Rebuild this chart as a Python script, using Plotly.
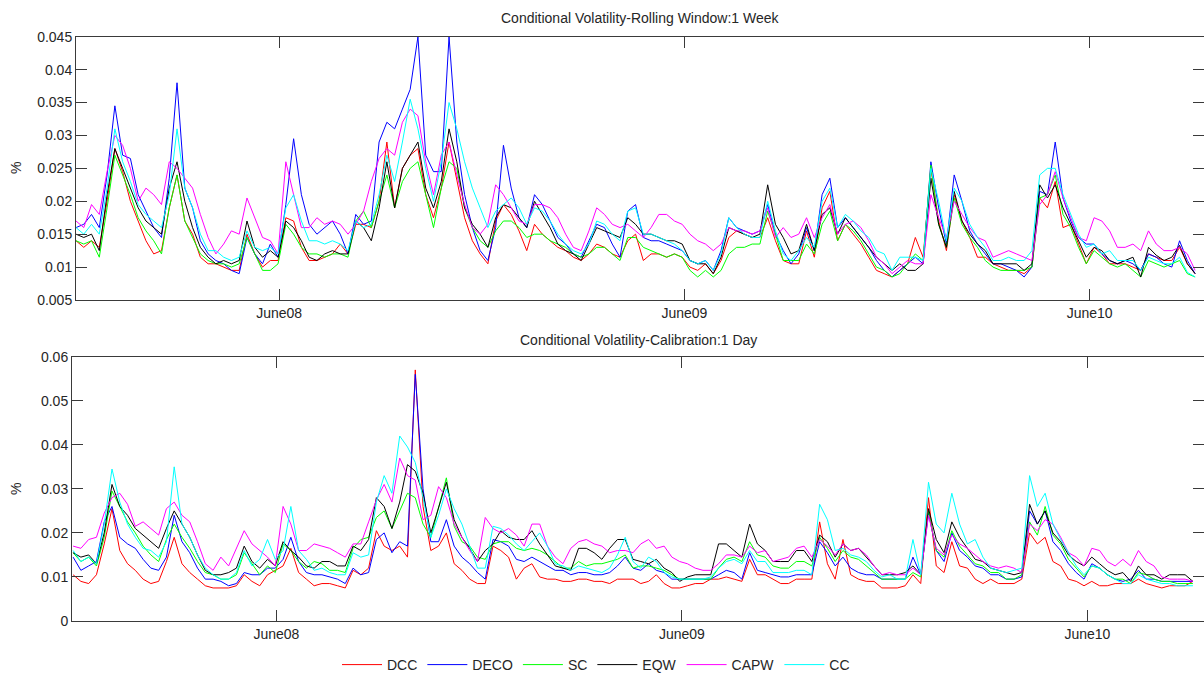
import pandas as pd
import plotly.graph_objects as go

# weekly observation dates (x axis)
dates = pd.date_range("2007-12-01", periods=145, freq="7D")

series_names = ["DCC", "DECO", "SC", "EQW", "CAPW", "CC"]
series_colors = ["#ff0000", "#0000ff", "#00ff00", "#000000", "#ff00ff", "#00ffff"]

month_ticks = ["2008-06-01", "2009-06-01", "2010-06-01"]
month_labels = ["June08", "June09", "June10"]

top_ticks = [0.005, 0.01, 0.015, 0.02, 0.025, 0.03, 0.035, 0.04, 0.045]
top_tick_labels = ["0.005", "0.01", "0.015", "0.02", "0.025", "0.03", "0.035", "0.04", "0.045"]
bot_ticks = [0, 0.01, 0.02, 0.03, 0.04, 0.05, 0.06]
bot_tick_labels = ["0", "0.01", "0.02", "0.03", "0.04", "0.05", "0.06"]

# ---- Panel 1: Rolling Window 1 Week ----
top_dcc = [.014,.013,.014,.013,.020,.028,.0245,.020,.017,.014,
           .012,.0125,.019,.024,.017,.015,.0115,.0105,.0105,.010,
           .0095,.0095,.015,.012,.010,.011,.011,.0175,.017,.013,
           .011,.011,.0115,.012,.0135,.012,.0165,.0165,.016,.020,
           .029,.019,.025,.027,.028,.021,.0175,.022,.029,.023,
           .0175,.014,.012,.0105,.017,.0195,.018,.0155,.0125,.0165,
           .015,.014,.013,.0125,.0115,.011,.012,.0135,.013,.012,
           .0115,.014,.015,.011,.012,.012,.0115,.012,.0115,.010,
           .0095,.0105,.009,.011,.0145,.0155,.015,.0145,.0145,.0175,
           .014,.011,.0105,.0105,.0155,.0115,.019,.0215,.014,.0165,
           .015,.0135,.0115,.0095,.009,.0085,.0095,.0105,.0145,.0115,
           .025,.017,.0125,.021,.017,.0145,.0115,.0115,.0105,.010,
           .0095,.0095,.009,.010,.0205,.019,.023,.016,.0165,.0135,
           .0105,.013,.012,.0105,.0105,.0105,.010,.0095,.012,.0115,
           .011,.011,.013,.0105,.009]
top_deco = [.016,.0165,.018,.016,.024,.0345,.027,.0265,.021,.0185,
            .016,.0145,.0235,.038,.022,.019,.014,.012,.011,.0105,
            .0095,.009,.0145,.012,.0105,.0135,.0115,.0195,.0295,.021,
            .0165,.015,.016,.017,.015,.012,.018,.0165,.017,.029,
            .032,.031,.034,.037,.045,.027,.0245,.0245,.045,.029,
            .021,.016,.0125,.011,.016,.0285,.022,.0175,.016,.021,
            .0195,.017,.0145,.0135,.012,.0115,.014,.0165,.016,.0135,
            .0115,.0185,.0195,.0145,.014,.014,.0135,.013,.0125,.011,
            .0105,.011,.0095,.0125,.0175,.016,.0155,.015,.0155,.0195,
            .015,.0125,.0105,.012,.016,.0125,.021,.0235,.016,.0175,
            .016,.0145,.013,.011,.0095,.0085,.0095,.0105,.0115,.0105,
            .026,.019,.0135,.024,.020,.0155,.0135,.012,.0105,.0105,
            .010,.0095,.0085,.010,.0215,.021,.029,.0205,.017,.0145,
            .0135,.0135,.012,.011,.0105,.011,.0105,.0095,.012,.0115,
            .0105,.010,.014,.011,.009]
top_sc = [.014,.0135,.014,.0115,.019,.027,.024,.021,.0175,.0155,
          .014,.012,.019,.024,.017,.0145,.012,.011,.0105,.0105,
          .010,.0105,.0145,.012,.0095,.0095,.0105,.0165,.015,.013,
          .012,.012,.0115,.012,.012,.0115,.017,.0185,.016,.020,
          .024,.019,.023,.025,.026,.021,.016,.022,.026,.025,
          .019,.016,.014,.013,.0155,.017,.017,.016,.0145,.015,
          .015,.014,.0135,.013,.012,.0115,.012,.013,.013,.012,
          .011,.0145,.0145,.013,.0125,.012,.0115,.012,.0115,.0095,
          .0085,.0095,.0085,.0095,.012,.013,.013,.0135,.0135,.0185,
          .015,.011,.011,.011,.0135,.012,.0165,.0185,.014,.0165,
          .0155,.014,.012,.010,.0095,.0085,.009,.0105,.012,.011,
          .0255,.0165,.013,.0205,.0165,.0145,.013,.011,.010,.0095,
          .0095,.0095,.0095,.010,.0205,.021,.024,.018,.016,.013,
          .0105,.0125,.0115,.0105,.010,.0105,.0095,.0085,.011,.0105,
          .010,.0105,.011,.009,.0085]
top_eqw = [.015,.0145,.015,.0125,.021,.028,.025,.022,.019,.017,
           .016,.015,.022,.026,.020,.016,.013,.0115,.0105,.011,
           .0105,.011,.017,.013,.0115,.0125,.0115,.017,.016,.014,
           .0115,.011,.012,.0125,.012,.012,.017,.016,.014,.019,
           .026,.019,.025,.027,.029,.022,.019,.023,.031,.026,
           .019,.0165,.015,.013,.0175,.0195,.019,.0175,.016,.020,
           .018,.016,.0135,.0125,.012,.011,.0135,.016,.0155,.015,
           .0145,.0175,.0165,.015,.015,.0145,.014,.014,.0135,.011,
           .0105,.0105,.009,.0115,.016,.0155,.015,.0145,.015,.0225,
           .0165,.0145,.012,.0125,.0165,.0125,.018,.019,.015,.0175,
           .016,.0145,.013,.0115,.0105,.0095,.0105,.0095,.0095,.0105,
           .0235,.0165,.013,.0215,.017,.015,.0135,.0125,.0105,.0105,
           .0105,.0105,.0095,.0105,.0225,.0205,.0225,.019,.0165,.014,
           .0115,.013,.0125,.011,.0105,.011,.0115,.0085,.013,.0118,
           .011,.0115,.0133,.0105,.009]
top_capw = [.017,.016,.0195,.018,.0245,.030,.0285,.025,.020,.022,
            .021,.0195,.026,.025,.0235,.022,.018,.0145,.012,.0135,
            .0155,.015,.0205,.0175,.0145,.014,.012,.026,.021,.016,
            .016,.0175,.0165,.017,.0165,.015,.0165,.0185,.023,.0265,
            .028,.027,.032,.034,.033,.026,.021,.027,.029,.024,
            .0195,.016,.015,.0165,.0225,.021,.019,.017,.0165,.0195,
            .0195,.019,.0175,.015,.013,.0125,.0155,.019,.018,.0165,
            .016,.0165,.0155,.0145,.016,.018,.018,.017,.0165,.015,
            .014,.0135,.0125,.0135,.016,.0155,.0155,.015,.0155,.019,
            .0145,.016,.0145,.015,.0175,.0145,.0175,.0195,.015,.0165,
            .017,.016,.014,.0115,.0105,.009,.010,.011,.0105,.0105,
            .021,.0175,.0145,.020,.018,.016,.0145,.014,.0115,.012,
            .0125,.012,.0115,.011,.0195,.021,.0245,.0205,.0175,.0145,
            .014,.0175,.017,.0155,.013,.013,.0135,.0125,.0155,.0135,
            .0125,.0125,.013,.012,.0095]
top_cc = [.016,.015,.0165,.015,.022,.031,.026,.023,.0195,.018,
          .017,.016,.021,.031,.022,.019,.015,.0125,.0125,.0115,
          .011,.0115,.0155,.013,.0125,.013,.012,.019,.021,.017,
          .014,.014,.0135,.014,.0135,.0125,.017,.016,.0165,.021,
          .027,.023,.029,.0355,.031,.025,.020,.026,.035,.031,
          .026,.022,.019,.016,.0185,.0195,.0205,.019,.0165,.019,
          .0185,.017,.015,.0135,.0125,.012,.0135,.017,.0165,.015,
          .014,.0185,.019,.015,.015,.0145,.014,.0135,.0125,.011,
          .0105,.011,.0095,.012,.0175,.016,.015,.0145,.0145,.020,
          .0155,.012,.011,.0125,.0145,.013,.020,.022,.016,.018,
          .017,.0155,.0145,.0125,.012,.0095,.0115,.0115,.0115,.011,
          .025,.020,.014,.022,.020,.0165,.0145,.013,.011,.011,
          .0115,.011,.011,.0125,.024,.025,.025,.021,.018,.015,
          .013,.0135,.012,.0125,.011,.011,.011,.0095,.0115,.011,
          .0105,.0105,.0115,.0092,.0085]

# ---- Panel 2: Calibration 1 Day ----
bot_dcc = [.0105,.009,.0085,.0105,.0175,.0255,.016,.013,.0115,.0095,
           .0085,.009,.0135,.019,.013,.011,.0095,.008,.0075,.0075,
           .0075,.008,.0105,.009,.008,.0105,.0115,.0125,.0165,.011,
           .0095,.008,.0085,.0085,.008,.0075,.0115,.0105,.012,.0205,
           .017,.016,.017,.0145,.057,.026,.016,.017,.020,.013,
           .0115,.0095,.0085,.0085,.017,.016,.0145,.0095,.012,.013,
           .010,.0095,.0095,.009,.009,.0095,.0095,.009,.009,.0085,
           .0095,.0095,.0095,.0085,.009,.0105,.0085,.0075,.0075,.008,
           .0085,.0085,.0095,.0095,.010,.0095,.009,.014,.0105,.0105,
           .0095,.0085,.0085,.0095,.0095,.0095,.0225,.013,.0095,.0185,
           .0105,.0095,.009,.009,.0075,.0075,.0075,.008,.0105,.0085,
           .028,.0125,.011,.018,.0125,.012,.0095,.0085,.0095,.0085,
           .0085,.0085,.0095,.020,.0175,.019,.0135,.0125,.0095,.009,
           .008,.009,.008,.008,.0085,.0085,.0085,.0095,.0085,.008,
           .0075,.008,.008,.008,.009]
bot_deco = [.0145,.0115,.0125,.0135,.0225,.026,.019,.0175,.0165,.014,
            .012,.0115,.0145,.024,.018,.0155,.012,.0095,.0095,.009,
            .008,.0085,.011,.0105,.0105,.012,.012,.014,.019,.0135,
            .011,.0105,.0105,.010,.0095,.0085,.012,.0105,.011,.0185,
            .020,.0155,.018,.017,.056,.030,.018,.018,.023,.017,
            .0145,.013,.011,.0095,.0185,.018,.017,.014,.0135,.0145,
            .0135,.0125,.0115,.0115,.0105,.011,.011,.0105,.0105,.011,
            .0125,.0145,.012,.0115,.013,.0115,.011,.0095,.0095,.0095,
            .0095,.0095,.0095,.0105,.0115,.011,.0095,.0155,.0115,.011,
            .0105,.010,.010,.0105,.0105,.0105,.018,.0155,.0125,.0145,
            .012,.011,.0105,.0105,.0095,.0095,.0095,.0095,.0145,.0105,
            .0245,.016,.0135,.020,.016,.0145,.0125,.012,.0105,.0105,
            .0095,.0095,.010,.025,.022,.025,.018,.016,.013,.011,
            .0095,.013,.012,.0105,.0095,.009,.0095,.0115,.0095,.0095,
            .009,.009,.009,.009,.009]
bot_sc = [.0155,.0135,.0145,.0125,.019,.0295,.026,.0225,.020,.017,
          .015,.0135,.0185,.022,.019,.0165,.0135,.011,.0105,.0095,
          .0095,.0105,.0155,.013,.0105,.0125,.011,.0175,.016,.0135,
          .012,.0135,.013,.0115,.0115,.011,.0165,.0185,.019,.0235,
          .025,.021,.025,.029,.028,.022,.019,.0255,.0325,.0215,
          .018,.017,.0145,.014,.0175,.018,.018,.0165,.016,.0165,
          .016,.015,.0135,.012,.012,.0135,.0125,.013,.013,.0135,
          .014,.015,.012,.0125,.0125,.012,.0115,.0105,.0095,.0095,
          .0095,.0095,.0095,.012,.014,.0145,.0135,.018,.015,.0145,
          .0125,.012,.012,.0135,.0135,.0125,.019,.0165,.0135,.016,
          .0145,.014,.0125,.011,.0095,.0095,.0095,.0095,.011,.010,
          .025,.016,.0145,.0205,.017,.015,.013,.0125,.011,.011,
          .0095,.0095,.0105,.0225,.0195,.026,.0195,.0175,.014,.012,
          .010,.0125,.012,.0105,.0095,.0095,.0085,.011,.0105,.0095,
          .009,.009,.0085,.0085,.0085]
bot_eqw = [.0155,.0145,.015,.013,.020,.031,.026,.024,.021,.0195,
           .018,.0165,.021,.025,.022,.019,.015,.0115,.0105,.0105,
           .011,.012,.017,.0135,.012,.014,.0125,.018,.016,.0145,
           .0125,.012,.0135,.0135,.0125,.0125,.017,.016,.0185,.028,
           .026,.021,.027,.0355,.034,.029,.020,.026,.0315,.023,
           .019,.0165,.0135,.016,.0175,.0205,.019,.0185,.0185,.0205,
           .0175,.015,.0125,.012,.0115,.0165,.0165,.0155,.014,.0165,
           .0185,.0185,.014,.0135,.013,.014,.012,.011,.009,.010,
           .0105,.0105,.0105,.0175,.0175,.016,.0145,.022,.0175,.016,
           .0135,.0135,.0135,.016,.016,.0135,.0195,.018,.0145,.0175,
           .016,.0165,.0145,.0125,.0105,.0105,.0105,.011,.0125,.0105,
           .0255,.0185,.0155,.0225,.019,.0165,.014,.0135,.012,.0115,
           .011,.0105,.011,.0265,.022,.025,.020,.018,.015,.0135,
           .0125,.0145,.013,.0115,.0105,.011,.009,.0125,.0105,.0105,
           .0095,.0105,.0105,.0105,.009]
bot_capw = [.017,.0165,.0185,.019,.0245,.028,.029,.0265,.0215,.0225,
            .021,.0195,.0255,.027,.024,.0225,.018,.013,.0115,.0145,
            .0125,.0165,.0205,.0175,.016,.0145,.0125,.026,.022,.016,
            .016,.0175,.017,.0165,.0155,.0145,.0175,.0175,.0225,.0275,
            .031,.027,.037,.033,.032,.023,.024,.0305,.028,.022,
            .019,.016,.0135,.0235,.021,.020,.021,.0195,.017,.022,
            .022,.017,.0145,.013,.0165,.018,.0185,.0175,.017,.0155,
            .016,.016,.0155,.0175,.0185,.0165,.017,.0145,.0135,.013,
            .012,.0115,.0115,.013,.015,.015,.0145,.017,.0155,.016,
            .0135,.014,.0145,.0165,.017,.0145,.0185,.017,.015,.0175,
            .016,.0165,.015,.0125,.0105,.011,.0105,.0105,.012,.0105,
            .024,.0165,.015,.0195,.0175,.0165,.015,.0135,.0125,.012,
            .0125,.012,.011,.022,.0205,.023,.022,.019,.0155,.0145,
            .0125,.0165,.016,.0135,.0125,.014,.0125,.016,.0135,.0125,
            .010,.0095,.0095,.0095,.009]
bot_cc = [.016,.0135,.0145,.013,.022,.0345,.027,.022,.019,.0165,
          .016,.0145,.018,.035,.022,.019,.015,.012,.0105,.0095,
          .0095,.011,.016,.0125,.014,.0185,.014,.016,.026,.016,
          .014,.0115,.012,.011,.0105,.0105,.0155,.0145,.015,.027,
          .033,.029,.042,.0395,.036,.028,.019,.024,.030,.0255,
          .022,.017,.012,.012,.0215,.021,.0195,.0175,.016,.018,
          .020,.017,.013,.0125,.0115,.0125,.012,.0115,.011,.012,
          .015,.019,.0135,.012,.0145,.0135,.011,.010,.0095,.0095,
          .0095,.0095,.010,.012,.0135,.014,.013,.016,.0135,.0135,
          .011,.011,.011,.0115,.0115,.0105,.0265,.023,.016,.0165,
          .015,.0145,.0135,.0115,.010,.0105,.0095,.0095,.0185,.0105,
          .0315,.022,.020,.029,.022,.0175,.0185,.0145,.012,.0115,
          .011,.0115,.012,.033,.026,.029,.022,.0185,.0155,.0125,
          .0105,.0125,.012,.0105,.0095,.0085,.0085,.0105,.0095,.009,
          .0085,.0085,.008,.008,.008]

top_series = [top_dcc, top_deco, top_sc, top_eqw, top_capw, top_cc]
bot_series = [bot_dcc, bot_deco, bot_sc, bot_eqw, bot_capw, bot_cc]

W, H = 1204, 675
FONT = "Liberation Sans, Arial, sans-serif"
TXT = "#262626"
AX = "#3a3a3a"

fig = go.Figure()
for name, col, vals in zip(series_names, series_colors, top_series):
    fig.add_trace(go.Scatter(x=dates, y=vals, mode="lines", name=name,
                             line=dict(color=col, width=1), xaxis="x", yaxis="y"))
for name, col, vals in zip(series_names, series_colors, bot_series):
    fig.add_trace(go.Scatter(x=dates, y=vals, mode="lines", name=name, showlegend=False,
                             line=dict(color=col, width=1), xaxis="x2", yaxis="y2"))

def xax(left_px, rng):
    return dict(domain=[left_px / W, 1], range=rng, tickvals=month_ticks, ticktext=month_labels,
                ticks="inside", ticklen=11, tickcolor=AX, showline=True, linecolor=AX, linewidth=1,
                mirror="ticks", showgrid=False, zeroline=False,
                tickfont=dict(family=FONT, size=14, color=TXT))

def yax(top_px, bot_px, rng, tv, tt, anchor):
    return dict(domain=[1 - bot_px / H, 1 - top_px / H], range=rng, tickvals=tv, ticktext=tt,
                ticks="inside", ticklen=11, tickcolor=AX, showline=True, linecolor=AX, linewidth=1,
                mirror="ticks", showgrid=False, zeroline=False, anchor=anchor,
                tickfont=dict(family=FONT, size=14, color=TXT))

fig.update_layout(
    width=W, height=H,
    margin=dict(l=0, r=0, t=0, b=0, pad=0, autoexpand=False),
    paper_bgcolor="white", plot_bgcolor="white",
    xaxis=dict(xax(76, ["2007-12-01", "2010-09-12"]), anchor="y"),
    yaxis=yax(36.7, 300, [0.005, 0.045], top_ticks, top_tick_labels, "x"),
    xaxis2=dict(xax(72, ["2007-11-30", "2010-09-14"]), anchor="y2"),
    yaxis2=yax(356.7, 621, [0, 0.06], bot_ticks, bot_tick_labels, "x2"),
    showlegend=True,
    legend=dict(orientation="h", x=596 / W, xanchor="center", y=1 - 665 / H, yanchor="middle",
                font=dict(family=FONT, size=14, color=TXT), bgcolor="rgba(0,0,0,0)",
                itemwidth=40, tracegroupgap=0),
    annotations=[
        dict(text="Conditional Volatility-Rolling Window:1 Week", x=640 / W, y=1 - 18 / H,
             xref="paper", yref="paper", showarrow=False, xanchor="center", yanchor="middle",
             font=dict(family=FONT, size=14, color=TXT)),
        dict(text="Conditional Volatility-Calibration:1 Day", x=638 / W, y=1 - 340 / H,
             xref="paper", yref="paper", showarrow=False, xanchor="center", yanchor="middle",
             font=dict(family=FONT, size=14, color=TXT)),
        dict(text="%", x=16 / W, y=1 - 168 / H, xref="paper", yref="paper", showarrow=False,
             textangle=-90, xanchor="center", yanchor="middle",
             font=dict(family=FONT, size=14, color=TXT)),
        dict(text="%", x=16 / W, y=1 - 489 / H, xref="paper", yref="paper", showarrow=False,
             textangle=-90, xanchor="center", yanchor="middle",
             font=dict(family=FONT, size=14, color=TXT)),
    ],
)

fig.write_html("out.html", config={"displayModeBar": False},
               post_script="document.body.style.margin='0px';document.body.style.overflow='hidden';")
